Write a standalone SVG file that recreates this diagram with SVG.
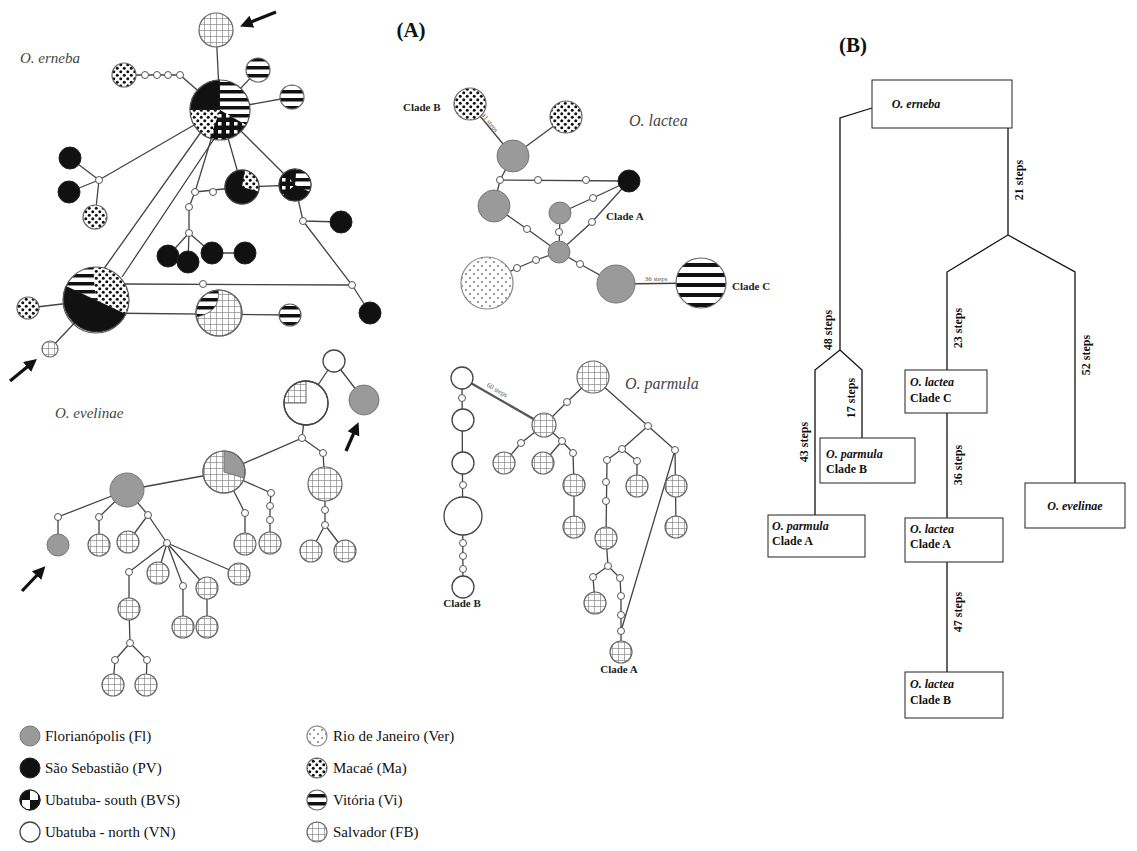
<svg xmlns="http://www.w3.org/2000/svg" width="1137" height="851" viewBox="0 0 1137 851">
<defs>
  <pattern id="grid" width="6" height="6" patternUnits="userSpaceOnUse"><rect width="6" height="6" fill="#fff"/><path d="M0,0.5H6M0.5,0V6" stroke="#888" stroke-width="0.7"/></pattern>
  <pattern id="vi" width="8" height="8" patternUnits="userSpaceOnUse"><rect width="8" height="8" fill="#fff"/><rect y="2" width="8" height="3.5" fill="#111"/></pattern>
  <pattern id="vi2" width="10" height="10" patternUnits="userSpaceOnUse"><rect width="10" height="10" fill="#fff"/><rect y="3" width="10" height="4" fill="#111"/></pattern>
  <pattern id="ma" width="7" height="7" patternUnits="userSpaceOnUse"><rect width="7" height="7" fill="#fff"/><circle cx="1.75" cy="1.75" r="1.5" fill="#111"/><circle cx="5.25" cy="5.25" r="1.5" fill="#111"/></pattern>
  <pattern id="rio" width="8" height="8" patternUnits="userSpaceOnUse"><rect width="8" height="8" fill="#fff"/><circle cx="2" cy="2" r="0.8" fill="#222"/><circle cx="6" cy="6" r="0.8" fill="#222"/></pattern>
  <pattern id="bvs" width="8" height="8" patternUnits="userSpaceOnUse"><rect width="8" height="8" fill="#111"/><rect x="2" y="2" width="3.5" height="3.5" fill="#fff"/></pattern>
  <marker id="ah" markerWidth="4" markerHeight="4" refX="2" refY="2" orient="auto" markerUnits="strokeWidth"><path d="M0,0 L4,2 L0,4 Z" fill="#111"/></marker>
</defs>
<style>
  .e{stroke:#444;stroke-width:1.3;fill:none}
  .thick{stroke:#555;stroke-width:2.2;fill:none}
  .s{fill:#fff;stroke:#555;stroke-width:1}
  .k{fill:#111;stroke:#222;stroke-width:1}
  .g{fill:#9a9a9a;stroke:#777;stroke-width:1}
  .w{fill:#fff;stroke:#444;stroke-width:1.3}
  .gr{fill:url(#grid);stroke:#666;stroke-width:1.2}
  .vi{fill:url(#vi);stroke:#666;stroke-width:1.2}
  .ma{fill:url(#ma);stroke:#666;stroke-width:1.2}
  .rio{fill:url(#rio);stroke:#888;stroke-width:1.2}
  .bvs{fill:url(#bvs)}
  .arr{stroke:#111;stroke-width:3.2;fill:none;marker-end:url(#ah)}
  .sp{font-family:"Liberation Serif",serif;font-style:italic;fill:#444}
  .cl{font-family:"Liberation Serif",serif;font-weight:bold;font-size:11px;fill:#222}
  .st{font-family:"Liberation Serif",serif;font-size:7px;fill:#555}
  .box{fill:#fff;stroke:#222;stroke-width:1}
  .bt{font-family:"Liberation Serif",serif;font-weight:bold;font-size:12px;fill:#111}
  .bi{font-style:italic}
  .lg{font-family:"Liberation Serif",serif;font-size:15px;fill:#111}
  .hd{font-family:"Liberation Serif",serif;font-weight:bold;font-size:21px;fill:#111}
</style>
<rect width="1137" height="851" fill="#fff"/>

<!-- connectors -->
<g id="connectors">
  <!-- O. erneba -->
  <path class="e" d="M216,30 L220,110 M220,110 L258,70 M220,110 L292,97 M124,75 L180,75 L220,110 M220,110 L99,180 M99,180 L70,158 M99,180 L69,192 M99,180 L95,217"/>
  <path class="e" d="M220,110 L195,192 L189,207 L189,233 M195,192 L242,187 M220,110 L242,187 M220,110 L295,185 M242,187 L295,185"/>
  <path class="e" d="M189,233 L168,256 M189,233 L188,262 M189,233 L212,253 L245,253"/>
  <path class="e" d="M295,185 L303,221 L341,222 M303,221 L352,285 L370,313"/>
  <path class="e" d="M201,132 L103,270 M214,139 L122,277 M124,284 L352,285 M96,313 L290,315 M96,300 L28,308 M96,300 L50,349"/>
  <!-- O. evelinae -->
  <path class="e" d="M334,361 L306,403 M334,361 L364,400 M306,403 L302,438 L224,472 M302,438 L323,453 L325,484 L325,525 M325,525 L311,551 M325,525 L345,551"/>
  <path class="e" d="M224,472 L127,490 M127,490 L58,517 L58,545 M127,490 L99,517 L99,545 M127,490 L148,515 L128,542 M148,515 L167,543"/>
  <path class="e" d="M167,543 L129,572 L129,609 L130,643 M167,543 L158,573 M167,543 L183,586 L183,627 M167,543 L207,588 L207,627 M167,543 L239,574 M130,643 L115,660 L113,685 M130,643 L147,660 L146,685"/>
  <path class="e" d="M224,472 L245,513 L245,544 M224,472 L271,493 L270,506 L270,520 L270,543"/>
  <!-- O. parmula -->
  <path class="e" d="M462,378 L463,587 M593,377 L567,402 L544,425 M544,425 L521,443 L504,463 M544,425 L562,441 L543,463 M562,441 L573,453 L574,485 L574,527"/>
  <path class="thick" d="M462,378 L544,425"/>
  <path class="e" d="M593,377 L648,426 L622,449 L607,460 L606,538 L608,566 M648,426 L675,450 M622,449 L637,461 L637,486 M608,566 L593,577 L595,603 M608,566 L620,578 L621,596 L621,652 M675,450 L676,527 M675,450 L621,631"/>
  <!-- O. lactea -->
  <path class="e" d="M470,104 L513,156 M566,117 L513,156 M513,156 L500,180 L494,206 M500,180 L629,181 M560,213 L593,198 L629,181 M560,213 L559,252 M494,206 L527,229 L559,252 M559,252 L592,222 L629,181 M559,252 L536,260 L517,268 L487,283 M559,252 L580,264 L616,284 L701,283"/>
  <!-- arrows -->
  <path class="arr" d="M276,12 L246,24"/>
  <path class="arr" d="M10,381 L32,363"/>
  <path class="arr" d="M346,451 L356,428"/>
  <path class="arr" d="M22,591 L41,571"/>
  <!-- tree (B) -->
  <path class="e" style="stroke:#111" d="M872,108 L840,118 L840,350 L815,370 L815,515 M840,350 L862,370 L862,438 M1008,128 L1008,235 L947,272 L947,370 M1008,235 L1075,272 L1075,483 M947,413 L947,518 M947,562 L947,672"/>
</g>

<!-- O. erneba nodes -->
<g id="erneba">
  <text class="sp" x="20" y="63" font-size="15">O. erneba</text>
  <g id="e-fb-top"><circle class="gr" cx="216" cy="30" r="17"/></g>
  <g id="e-hub">
    <path class="k" d="M220,110 L190,110 A30,30 0 0,1 220,80 Z"/>
    <path fill="url(#vi)" d="M220,110 L220,80 A30,30 0 0,1 246,125 Z"/>
    <path class="bvs" d="M220,110 L246,125 A30,30 0 0,1 209.7,138.2 Z"/>
    <path fill="url(#ma)" d="M220,110 L209.7,138.2 A30,30 0 0,1 190,110 Z"/>
    <circle cx="220" cy="110" r="30" fill="none" stroke="#555" stroke-width="1.2"/>
  </g>
  <g id="e-vi1"><circle class="vi" cx="258" cy="70" r="12"/></g>
  <g id="e-vi2"><circle class="vi" cx="292" cy="97" r="12"/></g>
  <g id="e-ma1"><circle class="ma" cx="124" cy="75" r="12"/></g>
  <circle class="s" cx="145" cy="75" r="3.5"/><circle class="s" cx="157" cy="75" r="3.5"/><circle class="s" cx="168" cy="75" r="3.5"/><circle class="s" cx="180" cy="75" r="3.5"/>
  <g id="e-pv1"><circle class="k" cx="70" cy="158" r="11"/></g>
  <g id="e-pv2"><circle class="k" cx="69" cy="192" r="11"/></g>
  <circle class="s" cx="99" cy="180" r="3.5"/>
  <g id="e-ma2"><circle class="ma" cx="95" cy="217" r="12"/></g>
  <circle class="s" cx="195" cy="192" r="3.5"/><circle class="s" cx="213" cy="192" r="3.5"/><circle class="s" cx="189" cy="207" r="3.5"/><circle class="s" cx="189" cy="233" r="3.5"/>
  <g id="e-pvma">
    <circle class="k" cx="242" cy="187" r="17"/>
    <path fill="url(#ma)" d="M242,187 L245,170.3 A17,17 0 0,1 258.4,191.4 Z"/>
    <circle cx="242" cy="187" r="17" fill="none" stroke="#444" stroke-width="1.2"/>
  </g>
  <g id="e-mix">
    <circle class="k" cx="295" cy="185" r="16"/>
    <path fill="url(#vi)" d="M295,185 L296.4,169.1 A16,16 0 0,1 309.5,191.8 Z"/>
    <path fill="url(#bvs)" d="M295,185 L282.7,195.3 A16,16 0 0,1 284.7,172.7 Z"/>
    <circle cx="295" cy="185" r="16" fill="none" stroke="#444" stroke-width="1.2"/>
  </g>
  <circle class="s" cx="303" cy="221" r="3.5"/>
  <g id="e-pv3"><circle class="k" cx="341" cy="222" r="11"/></g>
  <circle class="s" cx="352" cy="285" r="3.5"/>
  <g id="e-pv4"><circle class="k" cx="370" cy="313" r="11"/></g>
  <g id="e-pv5"><circle class="k" cx="168" cy="256" r="11"/></g>
  <g id="e-pv6"><circle class="k" cx="188" cy="262" r="11"/></g>
  <g id="e-pv7"><circle class="k" cx="212" cy="253" r="11"/></g>
  <g id="e-pv8"><circle class="k" cx="245" cy="253" r="11"/></g>
  <g id="e-hub2">
    <path class="k" d="M96,300 L125.9,313.9 A33,33 0 0,1 66.1,286.1 Z"/>
    <path fill="url(#vi)" d="M96,300 L66.1,286.1 A33,33 0 0,1 93.1,267.1 Z"/>
    <path fill="url(#ma)" d="M96,300 L93.1,267.1 A33,33 0 0,1 125.9,313.9 Z"/>
    <circle cx="96" cy="300" r="33" fill="none" stroke="#555" stroke-width="1.2"/>
  </g>
  <g id="e-ma3"><circle class="ma" cx="28" cy="308" r="11"/></g>
  <g id="e-fb-small"><circle class="gr" cx="50" cy="349" r="8"/></g>
  <circle class="s" cx="203" cy="284" r="3.5"/>
  <g id="e-fbvi">
    <circle class="gr" cx="219" cy="313" r="23"/>
    <path fill="url(#vi)" stroke="#555" stroke-width="0.8" d="M196.4,317 A23,23 0 0,1 218.2,290 Q221,312 196.4,317 Z"/>
    <circle cx="219" cy="313" r="23" fill="none" stroke="#666" stroke-width="1.2"/>
  </g>
  <g id="e-vi3"><circle class="vi" cx="290" cy="315" r="11"/></g>
</g>

<!-- O. evelinae nodes -->
<g id="evelinae">
  <text class="sp" x="55" y="418" font-size="15">O. evelinae</text>
  <g id="v-vn1"><circle class="w" cx="334" cy="361" r="11"/></g>
  <g id="v-vnfb">
    <circle class="w" cx="306" cy="403" r="22"/>
    <path fill="url(#grid)" stroke="#666" stroke-width="1" d="M306,403 L284,403 A22,22 0 0,1 306,381 Z"/>
    <circle cx="306" cy="403" r="22" fill="none" stroke="#444" stroke-width="1.3"/>
  </g>
  <g id="v-fl1"><circle class="g" cx="364" cy="400" r="15"/></g>
  <circle class="s" cx="302" cy="438" r="3.5"/>
  <g id="v-fbfl">
    <circle class="gr" cx="224" cy="472" r="21"/>
    <path class="g" d="M224,472 L224,451 A21,21 0 0,1 244.1,478.1 Z"/>
    <circle cx="224" cy="472" r="21" fill="none" stroke="#666" stroke-width="1.2"/>
  </g>
  <circle class="s" cx="323" cy="453" r="3.5"/>
  <g id="v-fb1"><circle class="gr" cx="325" cy="484" r="17"/></g>
  <circle class="s" cx="325" cy="510" r="3.5"/><circle class="s" cx="325" cy="525" r="3.5"/>
  <g id="v-fb2"><circle class="gr" cx="311" cy="551" r="11"/></g>
  <g id="v-fb3"><circle class="gr" cx="345" cy="551" r="11"/></g>
  <g id="v-fl2"><circle class="g" cx="127" cy="490" r="17"/></g>
  <circle class="s" cx="58" cy="517" r="3.5"/><circle class="s" cx="99" cy="517" r="3.5"/><circle class="s" cx="148" cy="515" r="3.5"/>
  <g id="v-fl3"><circle class="g" cx="58" cy="545" r="11"/></g>
  <g id="v-fb4"><circle class="gr" cx="99" cy="545" r="11"/></g>
  <g id="v-fb5"><circle class="gr" cx="128" cy="542" r="11"/></g>
  <circle class="s" cx="167" cy="543" r="3.5"/><circle class="s" cx="129" cy="572" r="3.5"/><circle class="s" cx="183" cy="586" r="3.5"/>
  <g id="v-fb6"><circle class="gr" cx="158" cy="573" r="11"/></g>
  <g id="v-fb7"><circle class="gr" cx="207" cy="588" r="11"/></g>
  <g id="v-fb8"><circle class="gr" cx="239" cy="574" r="11"/></g>
  <g id="v-fb9"><circle class="gr" cx="129" cy="609" r="11"/></g>
  <circle class="s" cx="130" cy="643" r="3.5"/><circle class="s" cx="115" cy="660" r="3.5"/><circle class="s" cx="147" cy="660" r="3.5"/>
  <g id="v-fb10"><circle class="gr" cx="113" cy="685" r="11"/></g>
  <g id="v-fb11"><circle class="gr" cx="146" cy="685" r="11"/></g>
  <g id="v-fb12"><circle class="gr" cx="183" cy="627" r="11"/></g>
  <g id="v-fb13"><circle class="gr" cx="207" cy="627" r="11"/></g>
  <circle class="s" cx="245" cy="513" r="3.5"/>
  <g id="v-fb14"><circle class="gr" cx="245" cy="544" r="11"/></g>
  <circle class="s" cx="271" cy="493" r="3.5"/><circle class="s" cx="270" cy="506" r="3.5"/><circle class="s" cx="270" cy="520" r="3.5"/>
  <g id="v-fb15"><circle class="gr" cx="270" cy="543" r="11"/></g>
</g>

<!-- O. parmula nodes -->
<g id="parmula">
  <text class="sp" x="625" y="389" font-size="16">O. parmula</text>
  <text class="st" transform="translate(496,392) rotate(29.8)" text-anchor="middle">60 steps</text>
  <g id="p-fb-top"><circle class="gr" cx="593" cy="377" r="16"/></g>
  <g id="p-vn1"><circle class="w" cx="462" cy="378" r="11"/></g>
  <circle class="s" cx="462" cy="398" r="3.5"/>
  <g id="p-vn2"><circle class="w" cx="463" cy="420" r="11"/></g>
  <g id="p-vn3"><circle class="w" cx="463" cy="463" r="11"/></g>
  <circle class="s" cx="463" cy="485" r="3.5"/>
  <g id="p-vn4"><circle class="w" cx="463" cy="516" r="19"/></g>
  <circle class="s" cx="463" cy="543" r="3.5"/><circle class="s" cx="463" cy="556" r="3.5"/><circle class="s" cx="463" cy="569" r="3.5"/>
  <g id="p-vn5"><circle class="w" cx="463" cy="587" r="11"/></g>
  <text class="cl" x="462" y="607" text-anchor="middle">Clade B</text>
  <g id="p-fb1"><circle class="gr" cx="544" cy="425" r="12"/></g>
  <circle class="s" cx="567" cy="402" r="3.5"/><circle class="s" cx="521" cy="443" r="3.5"/><circle class="s" cx="562" cy="441" r="3.5"/><circle class="s" cx="573" cy="453" r="3.5"/>
  <g id="p-fb2"><circle class="gr" cx="504" cy="463" r="11"/></g>
  <g id="p-fb3"><circle class="gr" cx="543" cy="463" r="11"/></g>
  <g id="p-fb4"><circle class="gr" cx="574" cy="485" r="11"/></g>
  <g id="p-fb5"><circle class="gr" cx="574" cy="527" r="11"/></g>
  <circle class="s" cx="648" cy="426" r="3.5"/><circle class="s" cx="622" cy="449" r="3.5"/><circle class="s" cx="675" cy="450" r="3.5"/>
  <circle class="s" cx="607" cy="460" r="3.5"/><circle class="s" cx="637" cy="461" r="3.5"/>
  <g id="p-fb6"><circle class="gr" cx="637" cy="486" r="11"/></g>
  <circle class="s" cx="606" cy="482" r="3.5"/><circle class="s" cx="606" cy="501" r="3.5"/>
  <g id="p-fb7"><circle class="gr" cx="606" cy="538" r="11"/></g>
  <circle class="s" cx="608" cy="566" r="3.5"/><circle class="s" cx="593" cy="577" r="3.5"/>
  <g id="p-fb8"><circle class="gr" cx="595" cy="603" r="11"/></g>
  <circle class="s" cx="620" cy="578" r="3.5"/><circle class="s" cx="621" cy="596" r="3.5"/><circle class="s" cx="621" cy="615" r="3.5"/><circle class="s" cx="621" cy="631" r="3.5"/>
  <g id="p-fb9"><circle class="gr" cx="621" cy="652" r="11"/></g>
  <text class="cl" x="619" y="673" text-anchor="middle">Clade A</text>
  <g id="p-fb10"><circle class="gr" cx="676" cy="486" r="11"/></g>
  <g id="p-fb11"><circle class="gr" cx="676" cy="527" r="11"/></g>
</g>

<!-- O. lactea nodes -->
<g id="lactea">
  <text class="sp" x="629" y="126" font-size="16">O. lactea</text>
  <text class="cl" x="403" y="111">Clade B</text>
  <text class="st" transform="translate(488,124) rotate(50.4)" text-anchor="middle">41 steps</text>
  <g id="l-ma1"><circle class="ma" cx="470" cy="104" r="16"/></g>
  <g id="l-ma2"><circle class="ma" cx="566" cy="117" r="16"/></g>
  <g id="l-fl1"><circle class="g" cx="513" cy="156" r="16"/></g>
  <circle class="s" cx="500" cy="180" r="3.5"/><circle class="s" cx="538" cy="180" r="3.5"/><circle class="s" cx="586" cy="180" r="3.5"/>
  <g id="l-pv"><circle class="k" cx="629" cy="181" r="11"/></g>
  <g id="l-fl2"><circle class="g" cx="494" cy="206" r="16"/></g>
  <g id="l-fl3"><circle class="g" cx="560" cy="213" r="11"/></g>
  <circle class="s" cx="593" cy="198" r="3.5"/><circle class="s" cx="559" cy="232" r="3.5"/><circle class="s" cx="527" cy="229" r="3.5"/><circle class="s" cx="592" cy="222" r="3.5"/>
  <text class="cl" x="606" y="220">Clade A</text>
  <g id="l-fl4"><circle class="g" cx="559" cy="252" r="11"/></g>
  <circle class="s" cx="536" cy="260" r="3.5"/><circle class="s" cx="517" cy="268" r="3.5"/><circle class="s" cx="580" cy="264" r="3.5"/>
  <g id="l-ver"><circle class="rio" cx="487" cy="283" r="26"/></g>
  <g id="l-fl5"><circle class="g" cx="616" cy="284" r="19"/></g>
  <text class="st" x="656" y="281" text-anchor="middle">36 steps</text>
  <g id="l-vi"><circle cx="701" cy="283" r="25" fill="url(#vi2)" stroke="#666" stroke-width="1.2"/></g>
  <text class="cl" x="732" y="290">Clade C</text>
</g>

<text class="hd" x="411" y="37" text-anchor="middle">(A)</text>
<text class="hd" x="853" y="52" text-anchor="middle">(B)</text>

<!-- tree (B) -->
<g id="tree">
  <g id="t-erneba"><rect class="box" x="872" y="80" width="140" height="48"/><text class="bt bi" x="916" y="108" text-anchor="middle">O. erneba</text></g>
  <g id="t-lacteaC"><rect class="box" x="905" y="370" width="82" height="43"/><text class="bt bi" x="910" y="386">O. lactea</text><text class="bt" x="910" y="402">Clade C</text></g>
  <g id="t-parmulaB"><rect class="box" x="820" y="438" width="95" height="45"/><text class="bt bi" x="826" y="458">O. parmula</text><text class="bt" x="826" y="473">Clade B</text></g>
  <g id="t-evelinae"><rect class="box" x="1025" y="483" width="100" height="45"/><text class="bt bi" x="1075" y="510" text-anchor="middle">O. evelinae</text></g>
  <g id="t-parmulaA"><rect class="box" x="768" y="515" width="97" height="42"/><text class="bt bi" x="772" y="530">O. parmula</text><text class="bt" x="772" y="545">Clade A</text></g>
  <g id="t-lacteaA"><rect class="box" x="905" y="518" width="98" height="44"/><text class="bt bi" x="910" y="533">O. lactea</text><text class="bt" x="910" y="548">Clade A</text></g>
  <g id="t-lacteaB"><rect class="box" x="905" y="672" width="98" height="46"/><text class="bt bi" x="910" y="688">O. lactea</text><text class="bt" x="910" y="704">Clade B</text></g>
  <g class="bt" font-size="11" text-anchor="middle">
    <text transform="translate(832,330) rotate(-90)">48 steps</text>
    <text transform="translate(808,442) rotate(-90)">43 steps</text>
    <text transform="translate(855,398) rotate(-90)">17 steps</text>
    <text transform="translate(1023,180) rotate(-90)">21 steps</text>
    <text transform="translate(962,328) rotate(-90)">23 steps</text>
    <text transform="translate(1090,355) rotate(-90)">52 steps</text>
    <text transform="translate(962,465) rotate(-90)">36 steps</text>
    <text transform="translate(962,612) rotate(-90)">47 steps</text>
  </g>
</g>

<!-- legend -->
<g id="legend">
  <g id="lg-fl"><circle class="g" cx="30" cy="736" r="10"/><text class="lg" x="45" y="741">Florianópolis (Fl)</text></g>
  <g id="lg-pv"><circle class="k" cx="30" cy="768" r="10"/><text class="lg" x="45" y="773">São Sebastião (PV)</text></g>
  <g id="lg-bvs"><circle class="k" cx="30" cy="800" r="10"/><rect x="30" y="790.5" width="8" height="9.5" fill="#fff"/><rect x="22" y="800" width="8" height="9" fill="#fff"/><circle cx="30" cy="800" r="10" fill="none" stroke="#222" stroke-width="1.2"/><text class="lg" x="45" y="805">Ubatuba- south (BVS)</text></g>
  <g id="lg-vn"><circle class="w" cx="30" cy="832" r="10"/><text class="lg" x="45" y="837">Ubatuba - north (VN)</text></g>
  <g id="lg-ver"><circle class="rio" cx="317" cy="736" r="10"/><text class="lg" x="333" y="741">Rio de Janeiro (Ver)</text></g>
  <g id="lg-ma"><circle class="ma" cx="317" cy="768" r="10"/><text class="lg" x="333" y="773">Macaé (Ma)</text></g>
  <g id="lg-vi"><circle class="vi" cx="317" cy="800" r="10"/><text class="lg" x="333" y="805">Vitória (Vi)</text></g>
  <g id="lg-fb"><circle class="gr" cx="317" cy="832" r="10"/><text class="lg" x="333" y="837">Salvador (FB)</text></g>
</g>
</svg>
